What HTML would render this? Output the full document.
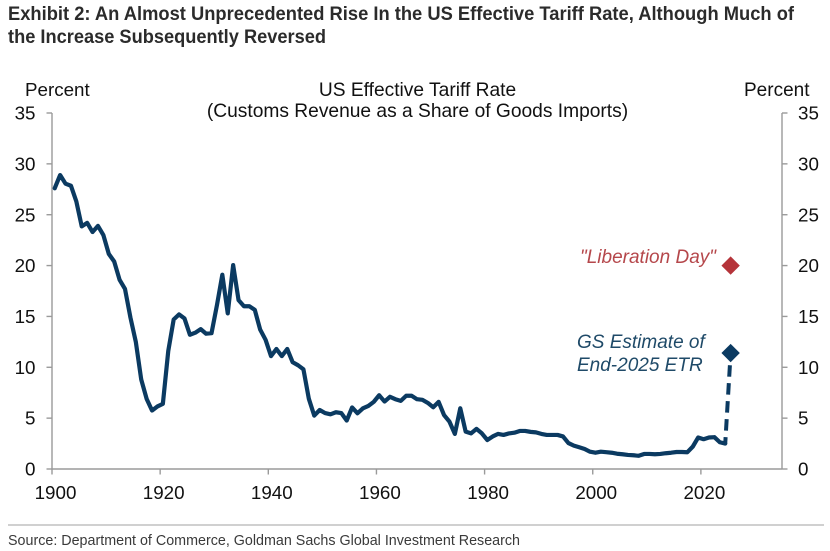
<!DOCTYPE html>
<html lang="en">
<head>
<meta charset="utf-8">
<title>US Effective Tariff Rate</title>
<style>
html,body{margin:0;padding:0;background:#fff;width:830px;height:551px;overflow:hidden}
svg{display:block;font-family:"Liberation Sans",sans-serif}
</style>
</head>
<body>
<svg id="chart" width="830" height="551" viewBox="0 0 830 551" xmlns="http://www.w3.org/2000/svg">
  <rect width="830" height="551" fill="#fff"/>
  <text x="8" y="20" font-size="19.5" font-weight="700" fill="#2b2b2b" textLength="786" lengthAdjust="spacingAndGlyphs">Exhibit 2: An Almost Unprecedented Rise In the US Effective Tariff Rate, Although Much of</text>
  <text x="8" y="43" font-size="19.5" font-weight="700" fill="#2b2b2b" textLength="318" lengthAdjust="spacingAndGlyphs">the Increase Subsequently Reversed</text>
  <text x="25" y="96" font-size="18.8" fill="#111">Percent</text>
  <text x="744" y="96" font-size="19" fill="#111">Percent</text>
  <text x="417.5" y="96" font-size="19.2" fill="#111" text-anchor="middle">US Effective Tariff Rate</text>
  <text x="417.5" y="117" font-size="19.2" fill="#111" text-anchor="middle">(Customs Revenue as a Share of Goods Imports)</text>
  <g id="axes"></g>
  <g id="marks"></g>
  <text x="580" y="263" font-size="19" font-style="italic" fill="#b5474b">"Liberation Day"</text>
  <text x="577" y="348" font-size="19" font-style="italic" fill="#1f4a68">GS Estimate of</text>
  <text x="577" y="371" font-size="19" font-style="italic" fill="#1f4a68">End-2025 ETR</text>
  <line x1="8" y1="525" x2="824" y2="525" stroke="#b5b5b5" stroke-width="1.3"/>
  <text x="8" y="545" font-size="14.5" fill="#3a3a3a" textLength="512" lengthAdjust="spacingAndGlyphs">Source: Department of Commerce, Goldman Sachs Global Investment Research</text>
</svg>
<script>
const startYear = 1900;
const tariffRate = [
  27.6,28.9,28.05,27.85,26.3,23.85,24.2,23.3,23.9,23.0,
  21.15,20.4,18.6,17.7,14.9,12.5,8.8,6.9,5.75,6.15,
  6.4,11.6,14.7,15.2,14.8,13.2,13.4,13.75,13.3,13.35,
  16.1,19.1,15.3,20.05,16.6,16.0,16.0,15.65,13.7,12.7,
  11.1,11.8,11.1,11.8,10.5,10.2,9.8,6.9,5.25,5.8,
  5.5,5.38,5.58,5.5,4.76,6.05,5.48,5.97,6.2,6.6,
  7.25,6.63,7.1,6.86,6.7,7.2,7.2,6.86,6.8,6.5,
  6.07,6.6,5.3,4.66,3.45,5.97,3.67,3.5,3.94,3.5,
  2.85,3.2,3.45,3.35,3.5,3.57,3.74,3.74,3.65,3.6,
  3.45,3.35,3.35,3.35,3.2,2.55,2.3,2.14,1.97,1.7,
  1.6,1.7,1.65,1.6,1.5,1.45,1.38,1.35,1.3,1.48,
  1.48,1.45,1.48,1.55,1.6,1.67,1.67,1.65,2.2,3.1,
  2.93,3.1,3.13,2.63,2.5
];
const estimateYear = 2025;
const estimateValue = 11.4;
const liberationDayValue = 20;
const yTicks = [0,5,10,15,20,25,30,35];
const xTicks = [1900,1920,1940,1960,1980,2000,2020];

const NS = 'http://www.w3.org/2000/svg';
const plot = {left:52, right:782, top:113, bottom:469, xMin:1900, xMax:2035, yMin:0, yMax:35};
function xScale(year){ return plot.left + (year - plot.xMin) * (plot.right - plot.left) / (plot.xMax - plot.xMin); }
function yScale(v){ return plot.bottom - (v - plot.yMin) * (plot.bottom - plot.top) / (plot.yMax - plot.yMin); }
function pointX(year){ return xScale(year + 0.5); }
function make(tag, parent, props){
  const el = document.createElementNS(NS, tag);
  for (const k in props) el.setAttribute(k, props[k]);
  parent.appendChild(el);
  return el;
}
const axes = document.getElementById('axes');
const marks = document.getElementById('marks');
const axisStyle = {stroke:'#9a9a9a', 'stroke-width':1.4, fill:'none'};

const leftAxis = make('line', axes, Object.assign({x1:plot.left,y1:plot.top,x2:plot.left,y2:plot.bottom}, axisStyle));


const rightAxis = make('line', axes, Object.assign({x1:plot.right,y1:plot.top,x2:plot.right,y2:plot.bottom}, axisStyle));


const xAxis = make('line', axes, Object.assign({x1:plot.left,y1:plot.bottom,x2:plot.right,y2:plot.bottom}, axisStyle));



yTicks.forEach(function(v){
  const y = yScale(v);
  const tl = make('line', axes, Object.assign({x1:plot.left-5.5,y1:y,x2:plot.left,y2:y}, axisStyle));
  
  
  const tr = make('line', axes, Object.assign({x1:plot.right,y1:y,x2:plot.right+5.5,y2:y}, axisStyle));
  
  
  const ll = make('text', axes, {x:35.5,y:y+6.6,'font-size':18.8,fill:'#111','text-anchor':'end'});
  ll.textContent = v;
  
  
  const lr = make('text', axes, {x:798,y:y+6.6,'font-size':18.8,fill:'#111'});
  lr.textContent = v;
  
  
});

xTicks.forEach(function(year){
  const x = xScale(year);
  const t = make('line', axes, Object.assign({x1:x,y1:plot.bottom,x2:x,y2:plot.bottom+5.5}, axisStyle));
  
  
  const l = make('text', axes, {x:x+3.5,y:499,'font-size':18.8,fill:'#111','text-anchor':'middle'});
  l.textContent = year;
  
  
});

const linePoints = tariffRate.map(function(v,i){ return pointX(startYear+i).toFixed(2)+','+yScale(v).toFixed(2); }).join(' ');
const tariffLine = make('polyline', marks, {points:linePoints, fill:'none', stroke:'#0b3a61', 'stroke-width':4.2, 'stroke-linejoin':'round', 'stroke-linecap':'round'});



const lastValue = tariffRate[tariffRate.length-1];
const lastYear = startYear + tariffRate.length - 1;
const estimateLine = make('line', marks, {x1:pointX(lastYear),y1:yScale(lastValue),x2:pointX(estimateYear),y2:yScale(estimateValue),stroke:'#0b3a61','stroke-width':4,'stroke-dasharray':'11.5 6.5','stroke-dashoffset':5});



function diamond(year, v, color){
  const cx = pointX(year), cy = yScale(v), r = 9.2;
  return make('polygon', marks, {points:[cx,cy-r,cx+r,cy,cx,cy+r,cx-r,cy].join(' '), fill:color});
}
const estimateMarker = diamond(estimateYear, estimateValue, '#0b3a61');


const liberationMarker = diamond(estimateYear, liberationDayValue, '#b5343a');


</script>
</body>
</html>
